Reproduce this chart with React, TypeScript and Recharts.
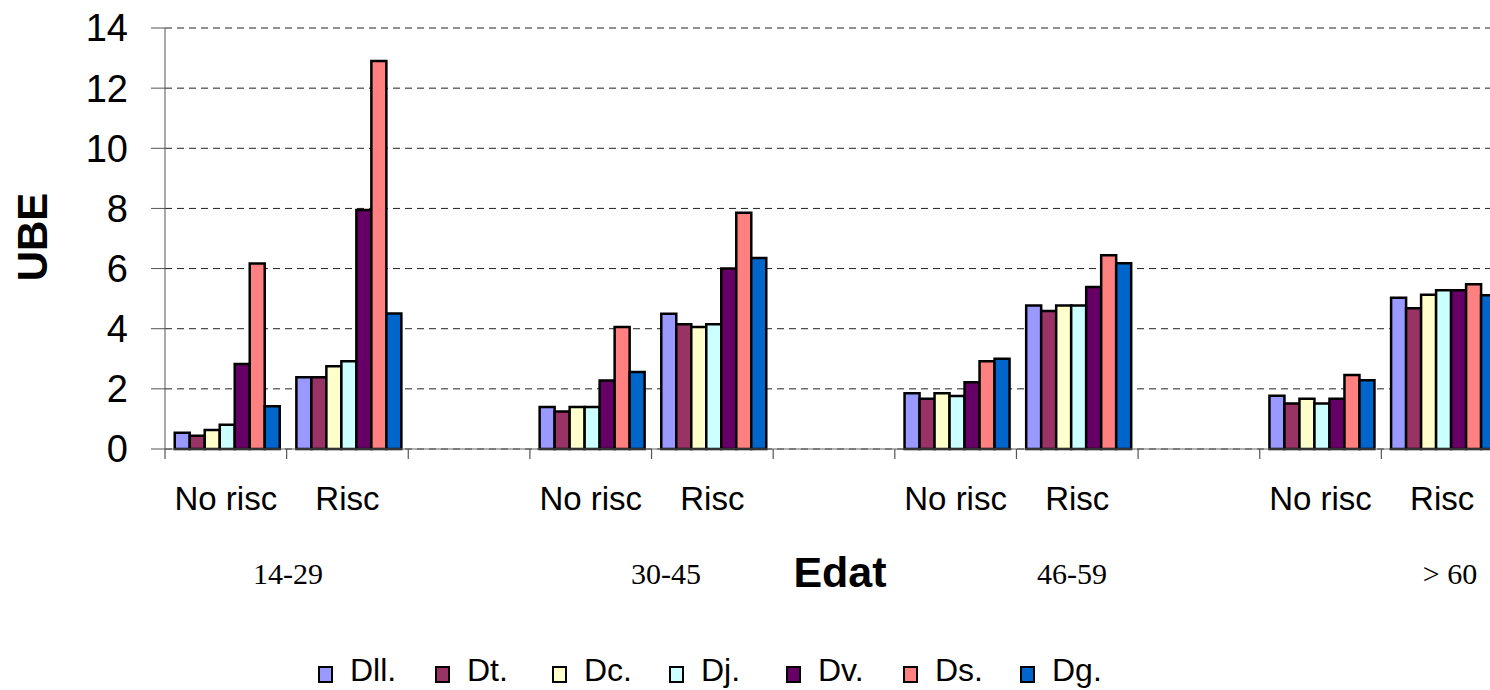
import { BarChart, Bar, XAxis, YAxis, CartesianGrid } from "recharts";

const categories = ["No risc", "Risc", "", "No risc", "Risc", "", "No risc", "Risc", "", "No risc", "Risc"];

const dll = [0.54, 2.39, null, 1.4, 4.5, null, 1.85, 4.77, null, 1.77, 5.03];
const dt = [0.44, 2.39, null, 1.25, 4.15, null, 1.67, 4.59, null, 1.51, 4.68];
const dc = [0.63, 2.75, null, 1.4, 4.06, null, 1.85, 4.77, null, 1.67, 5.13];
const dj = [0.81, 2.92, null, 1.4, 4.15, null, 1.76, 4.77, null, 1.51, 5.28];
const dv = [2.83, 7.95, null, 2.28, 6.0, null, 2.22, 5.39, null, 1.67, 5.28];
const ds = [6.17, 12.9, null, 4.06, 7.86, null, 2.92, 6.44, null, 2.46, 5.48];
const dg = [1.42, 4.51, null, 2.56, 6.35, null, 3.0, 6.18, null, 2.29, 5.11];

const yTicks = [0, 2, 4, 6, 8, 10, 12, 14];

const groupLabels = ["14-29", "30-45", "46-59", "> 60"];
const groupLabelX = [288, 666, 1072, 1450];

const SERIES = [
    { key: "Dll.", values: dll, color: "#9999FF" },
    { key: "Dt.", values: dt, color: "#993366" },
    { key: "Dc.", values: dc, color: "#FFFFCC" },
    { key: "Dj.", values: dj, color: "#CCFFFF" },
    { key: "Dv.", values: dv, color: "#660066" },
    { key: "Ds.", values: ds, color: "#FF8080" },
    { key: "Dg.", values: dg, color: "#0066CC" },
];

const data = categories.map((name, i) => {
    const row: Record<string, string | number | null> = { name };
    SERIES.forEach((s) => (row[s.key] = s.values[i]));
    return row;
});

const SANS = '"Liberation Sans", Arial, sans-serif';
const SERIF = '"Liberation Serif", "Times New Roman", serif';

const CHART_W = 1510;
const CHART_H = 690;
const Y_AXIS_W = 165;
const MARGIN = { top: 28, right: 7, bottom: 0, left: 0 };
const BAND = (CHART_W - Y_AXIS_W - MARGIN.left - MARGIN.right) / categories.length;

// tick marks sit on category boundaries, labels on the centres
function XTick(props: any) {
    const { x, y, payload } = props;
    const bx = x - BAND / 2;
    return (
        <g>
            <line x1={bx} y1={y} x2={bx} y2={y + 10} stroke="#555" strokeWidth={1.2} />
            <text x={x} y={y + 61} textAnchor="middle" fontSize={33} fontFamily={SANS} fill="#000">
                {payload.value}
            </text>
        </g>
    );
}

export default function App() {
    return (
        <div style={{ position: "absolute", left: 0, top: 0, width: 1490, height: 690, overflow: "hidden", background: "#fff" }}>
            <BarChart width={CHART_W} height={CHART_H} data={data} margin={MARGIN} barGap={0} barCategoryGap="8%">
                <CartesianGrid vertical={false} stroke="#222" strokeDasharray="7 5" />
                <XAxis
                    dataKey="name"
                    height={241}
                    stroke="#666"
                    tickLine={false}
                    tickSize={0}
                    tickMargin={0}
                    interval={0}
                    tick={<XTick />}
                />
                <YAxis
                    width={Y_AXIS_W}
                    domain={[0, 14]}
                    ticks={yTicks}
                    stroke="#555"
                    tickSize={14}
                    tickMargin={23}
                    tick={{ fontSize: 38, fontFamily: SANS, fill: "#000" }}
                />
                {SERIES.map((s) => (
                    <Bar key={s.key} dataKey={s.key} fill={s.color} stroke="#000" strokeWidth={2.5} isAnimationActive={false} />
                ))}
            </BarChart>

            <div
                style={{
                    position: "absolute",
                    left: 33,
                    top: 237,
                    transform: "translate(-50%, -50%) rotate(-90deg)",
                    fontFamily: SANS,
                    fontWeight: "bold",
                    fontSize: 42,
                    lineHeight: 1,
                }}
            >
                UBE
            </div>
            <div
                style={{
                    position: "absolute",
                    left: 840,
                    top: 572,
                    transform: "translate(-50%, -50%)",
                    fontFamily: SANS,
                    fontWeight: "bold",
                    fontSize: 43,
                    lineHeight: 1,
                }}
            >
                Edat
            </div>
            {groupLabels.map((g, i) => (
                <div
                    key={g}
                    style={{
                        position: "absolute",
                        left: groupLabelX[i],
                        top: 574,
                        transform: "translate(-50%, -50%)",
                        fontFamily: SERIF,
                        fontSize: 30,
                        lineHeight: 1,
                        whiteSpace: "nowrap",
                    }}
                >
                    {g}
                </div>
            ))}

            <div style={{ position: "absolute", left: 318, top: 650, display: "flex" }}>
                {SERIES.map((s) => (
                    <div key={s.key} style={{ width: 117, display: "flex", alignItems: "center", height: 40 }}>
                        <span
                            style={{
                                width: 11,
                                height: 13,
                                background: s.color,
                                border: "2px solid #000",
                                marginRight: 17,
                                marginTop: 8,
                            }}
                        />
                        <span style={{ fontFamily: SANS, fontSize: 32, lineHeight: 1 }}>{s.key}</span>
                    </div>
                ))}
            </div>
        </div>
    );
}
